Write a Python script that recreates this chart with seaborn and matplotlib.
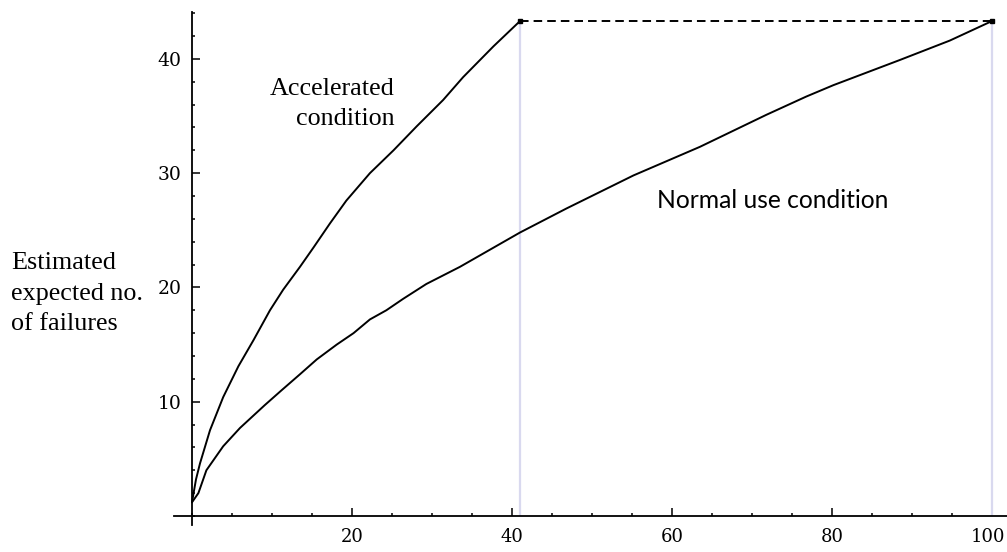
import matplotlib
matplotlib.use("Agg")
import matplotlib.pyplot as plt
import matplotlib.transforms as mtransforms
import seaborn as sns
from matplotlib.ticker import MultipleLocator

# ---- data ----
acc_x = [0.0, 0.5, 1.0, 2.25, 3.9, 5.8, 7.7, 9.75, 11.4, 13.5, 15.2, 17.25, 19.3,
         22.25, 25.2, 28.1, 31.4, 33.9, 37.7, 41.0]
acc_y = [1.2, 3.2, 4.6, 7.5, 10.4, 13.1, 15.4, 18.0, 19.8, 21.8, 23.5, 25.6, 27.6,
         30.0, 32.0, 34.1, 36.4, 38.4, 41.1, 43.3]

norm_x = [0.0, 0.8, 1.8, 3.9, 6.0, 9.1, 11.2, 13.5, 15.6, 18.1, 20.2, 22.25, 24.3,
          26.4, 29.3, 33.5, 37.25, 41.0, 46.8, 55.2, 63.5, 71.8, 76.8, 80.2,
          88.5, 94.75, 100.0]
norm_y = [1.2, 2.0, 4.0, 6.1, 7.7, 9.7, 11.0, 12.4, 13.7, 15.0, 16.0, 17.2, 18.0,
          19.0, 20.3, 21.8, 23.3, 24.8, 26.9, 29.8, 32.3, 35.1, 36.7, 37.7,
          39.9, 41.6, 43.3]

end_level = 43.3
end_times = [41.0, 100.0]
x_ticks = [20, 40, 60, 80, 100]
y_ticks = [10, 20, 30, 40]

label_acc = ["Accelerated", "condition"]
label_norm = "Normal use condition"
label_y = ["Estimated", "expected no.", "of failures"]

# ---- style ----
sns.set_theme(style="white")
plt.rcParams['font.family'] = ['DejaVu Serif']

W, H = 1007, 552
fig = plt.figure(figsize=(W / 100, H / 100), dpi=100)
ax = fig.add_axes([173.6 / W, 27 / H, 833.4 / W, 513 / H])
ax.set_facecolor("white")

# light guide lines
ax.vlines(end_times, 0, end_level, colors="#d9d9ef", lw=1.6, zorder=1)

sns.lineplot(x=acc_x, y=acc_y, ax=ax, color="black", lw=1.4, sort=False,
             estimator=None, zorder=3)
sns.lineplot(x=norm_x, y=norm_y, ax=ax, color="black", lw=1.4, sort=False,
             estimator=None, zorder=3)
ax.plot(end_times, [end_level, end_level], color="black", lw=1.4,
        ls=(0, (4.4, 2.6)), marker="s", ms=3, zorder=4)

ax.set_xlim(-2.3, 101.9)
ax.set_ylim(-0.79, 44.1)

for s in ["top", "right"]:
    ax.spines[s].set_visible(False)
for s in ["left", "bottom"]:
    ax.spines[s].set_position(("data", 0))
    ax.spines[s].set_color("black")
    ax.spines[s].set_linewidth(1.3)

ax.set_xticks(x_ticks)
ax.set_yticks(y_ticks)
ax.xaxis.set_minor_locator(MultipleLocator(5))
ax.yaxis.set_minor_locator(MultipleLocator(2))
ax.tick_params(which="both", direction="in", color="black", width=1.1,
               bottom=True, left=True)
ax.tick_params(which="major", length=5.8)
ax.tick_params(which="minor", length=2.5)
ax.tick_params(axis="x", which="major", pad=9, labelsize=13, labelcolor="black")
ax.tick_params(axis="y", which="major", pad=7.5, labelsize=13.5, labelcolor="black")
ax.set_xlabel("")
ax.set_ylabel("")
ax.grid(False)

# keep the last x label ("100") inside the figure edge
last_lbl = ax.get_xticklabels()[-1]
last_lbl.set_transform(last_lbl.get_transform() +
                       mtransforms.ScaledTranslation(-4 / 100, 0, fig.dpi_scale_trans))


def ftext(px, py, s, **kw):
    fig.text(px / W, 1 - py / H, s, **kw)


serif = dict(family=["Liberation Serif", "DejaVu Serif"], fontsize=18.8,
             color="black", va="baseline")
for i, line in enumerate(label_y):
    ftext(11, 269.3 + 30.3 * i, line, ha="left", **serif)
for i, line in enumerate(label_acc):
    ftext(395, 95 + 30 * i, line, ha="right", **serif)
ftext(657, 207.7, label_norm, ha="left", family=["Lato", "DejaVu Sans"],
      fontsize=17.7, color="black", va="baseline")

fig.savefig("out.png", dpi=100)
